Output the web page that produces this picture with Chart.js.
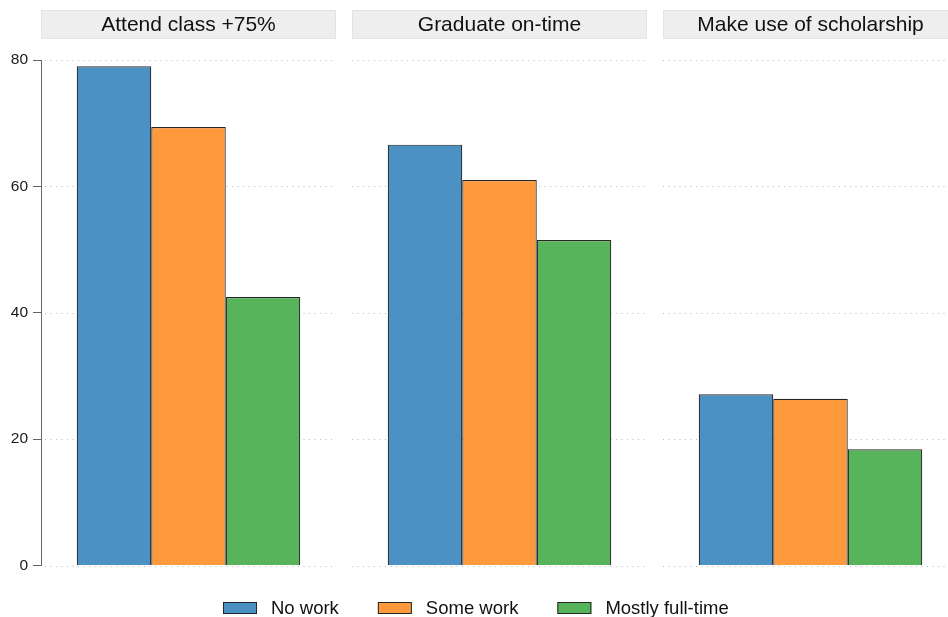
<!DOCTYPE html>
<html>
<head>
<meta charset="utf-8">
<script src="https://cdn.jsdelivr.net/npm/chart.js@4.4.1/dist/chart.umd.min.js"></script>
<style>
  html, body { margin: 0; padding: 0; background: #ffffff; overflow: hidden; }
  #wrap { position: relative; width: 948px; height: 617px; }
</style>
</head>
<body>
<div id="wrap"><canvas id="c" width="948" height="617"></canvas></div>
<script>
// ---- data ----
const categories = ['Attend class +75%', 'Graduate on-time', 'Make use of scholarship'];
const seriesNames = ['No work', 'Some work', 'Mostly full-time'];
const noWork = [79.0, 66.6, 27.1];
const someWork = [69.4, 61.0, 26.4];
const fullTime = [42.5, 51.5, 18.4];
const yTicks = [0, 20, 40, 60, 80];

// ---- styling ----
const colors = ['#4b91c3', '#fe993c', '#58b45a'];
const BORDER = '#262626';
const FONT = '"Liberation Sans", Arial, Helvetica, sans-serif';
const HALF = 0.4743;          // half panel width in category units
const XMIN = -HALF, XMAX = 2.4421;

const seriesValues = [noWork, someWork, fullTime];
const datasets = seriesNames.map((name, s) => ({
  label: name,
  data: categories.map((c, i) => ({ x: i, y: seriesValues[s][i] })),
  backgroundColor: colors[s],
  borderColor: BORDER,
  borderWidth: 1.2,
  categoryPercentage: 0.7187,
  barPercentage: 1.0
}));

const panelPlugin = {
  id: 'panels',
  beforeDatasetsDraw(chart) {
    const ctx = chart.ctx, xs = chart.scales.x, ys = chart.scales.y;
    ctx.save();
    categories.forEach((cat, i) => {
      const x0 = Math.round(xs.getPixelForValue(i - HALF));
      const x1 = Math.round(xs.getPixelForValue(i + HALF));
      // header strip
      ctx.fillStyle = '#eeeeee';
      ctx.fillRect(x0, 10, x1 - x0, 29);
      ctx.strokeStyle = '#dfe5ea';
      ctx.lineWidth = 1;
      ctx.strokeRect(x0 + 0.5, 10.5, x1 - x0 - 1, 28);
      ctx.fillStyle = '#111111';
      ctx.font = '21px ' + FONT;
      ctx.textAlign = 'center';
      ctx.textBaseline = 'middle';
      ctx.fillText(cat, (x0 + x1) / 2, 25);
      // dotted gridlines
      ctx.strokeStyle = '#b8b8b8';
      ctx.setLineDash([1, 4.5]);
      yTicks.forEach(t => {
        const y = Math.round(ys.getPixelForValue(t)) + 0.5;
        ctx.beginPath();
        ctx.moveTo(x0 + (i === 0 ? 4 : 0), y);
        ctx.lineTo(x1, y);
        ctx.stroke();
      });
      ctx.setLineDash([]);
    });
    ctx.restore();
  }
};

const legendPlugin = {
  id: 'customLegend',
  afterDraw(chart) {
    const ctx = chart.ctx;
    ctx.save();
    ctx.font = '18.5px ' + FONT;
    const boxW = 34, boxH = 12, gap = 14, spacing = 39;
    const widths = seriesNames.map(n => ctx.measureText(n).width);
    const total = widths.reduce((a, w) => a + boxW + gap + w, 0) + spacing * (seriesNames.length - 1);
    let x = Math.round(476 - total / 2);
    const yc = 608;
    seriesNames.forEach((n, s) => {
      ctx.fillStyle = colors[s];
      ctx.fillRect(x, yc - boxH / 2, boxW, boxH);
      ctx.strokeStyle = BORDER;
      ctx.lineWidth = 1;
      ctx.strokeRect(x + 0.5, yc - boxH / 2 + 0.5, boxW - 1, boxH - 1);
      ctx.fillStyle = '#111111';
      ctx.textAlign = 'left';
      ctx.textBaseline = 'middle';
      ctx.fillText(n, x + boxW + gap, yc + 1);
      x += boxW + gap + widths[s] + spacing;
    });
    ctx.restore();
  }
};

new Chart(document.getElementById('c'), {
  type: 'bar',
  data: { datasets },
  options: {
    responsive: false,
    animation: false,
    layout: { padding: { top: 60, bottom: 51.5, left: 0, right: 0 } },
    plugins: { legend: { display: false }, tooltip: { enabled: false }, title: { display: false } },
    scales: {
      x: {
        type: 'linear',
        display: false,
        min: XMIN,
        max: XMAX,
        offset: false,
        afterBuildTicks: (scale) => { scale.ticks = categories.map((c, i) => ({ value: i })); }
      },
      y: {
        min: 0,
        max: 80,
        afterBuildTicks: (scale) => { scale.ticks = yTicks.map(v => ({ value: v })); },
        afterFit: (scale) => { scale.width = 41; },
        border: { display: true, color: '#666666', width: 1 },
        grid: { drawOnChartArea: false, drawTicks: true, tickLength: 8, tickColor: '#666666' },
        ticks: { color: '#1a1a1a', padding: 5, font: { size: 15.5, family: FONT } }
      }
    }
  },
  plugins: [panelPlugin, legendPlugin]
});
</script>
</body>
</html>
